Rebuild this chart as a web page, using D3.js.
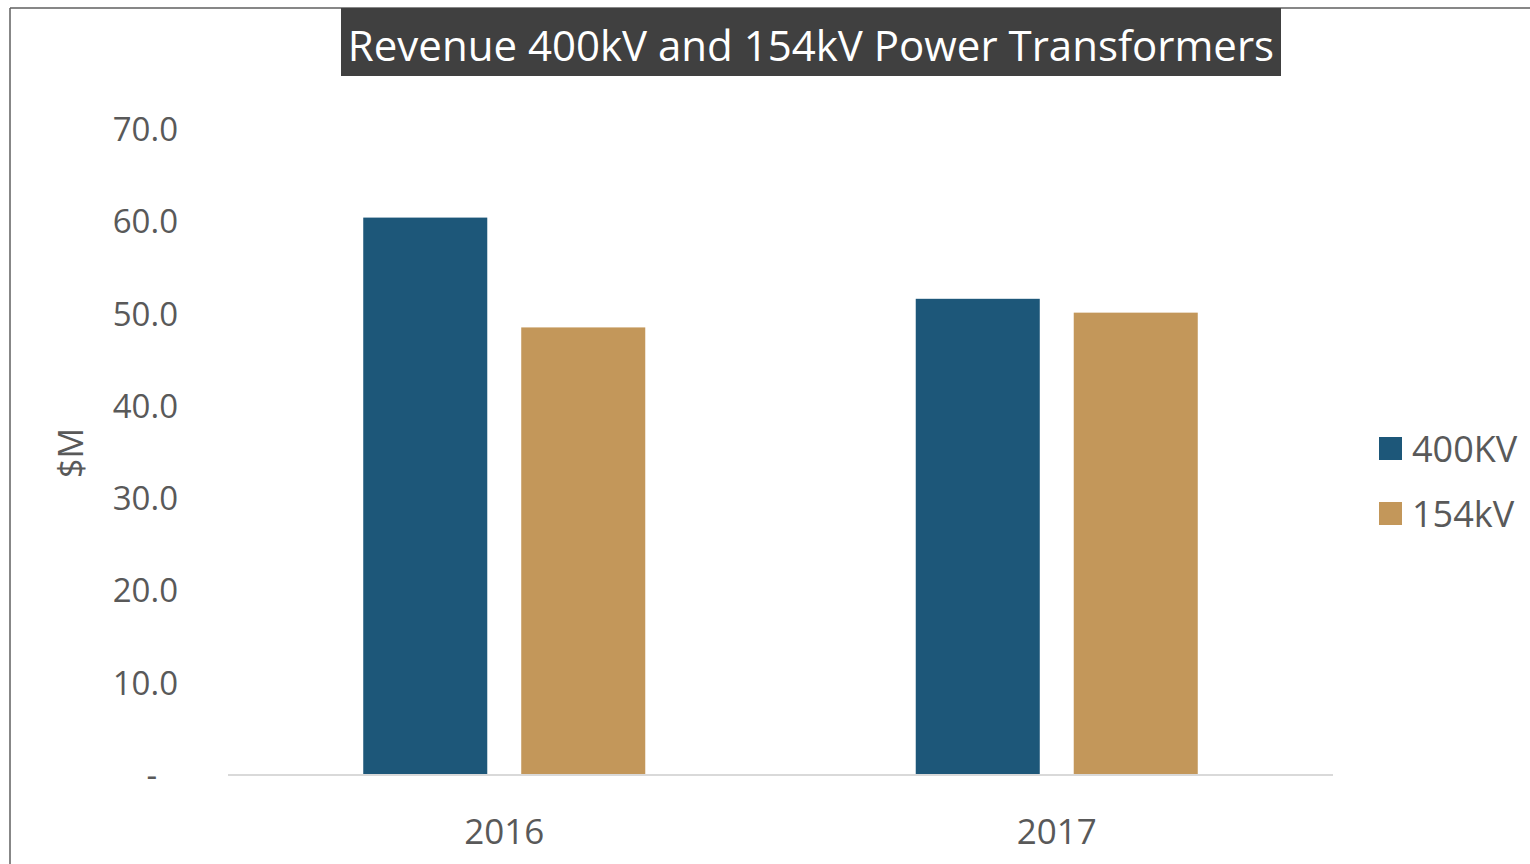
<!DOCTYPE html>
<html>
<head>
<meta charset="utf-8">
<script src="https://cdn.jsdelivr.net/npm/d3@7"></script>
<style>
  html, body { margin: 0; padding: 0; background: #fff; }
  svg { display: block; font-family: "Open Sans", "Noto Sans", sans-serif; }
</style>
</head>
<body>
<svg id="chart" width="1530" height="864"></svg>
<script>
const categories = ["2016", "2017"];
const seriesNames = ["400KV", "154kV"];
const series400 = [60.4, 51.6];
const series154 = [48.5, 50.1];
const seriesColors = ["#1d5779", "#c3975a"];
const yTicks = [0, 10, 20, 30, 40, 50, 60, 70];
const titleText = "Revenue 400kV and 154kV Power Transformers";
const yAxisTitle = "$M";

const seriesValues = [series400, series154];
const data = categories.map((c, i) => ({
  cat: c,
  vals: seriesNames.map((s, j) => ({ key: s, value: seriesValues[j][i], color: seriesColors[j] }))
}));

const svg = d3.select("#chart");
const textColor = "#595959";

// frame lines
svg.append("line").attr("x1", 10).attr("y1", 8).attr("x2", 1530).attr("y2", 8)
  .attr("stroke", "#5f5f5f").attr("stroke-width", 1.5);
svg.append("line").attr("x1", 10).attr("y1", 8).attr("x2", 10).attr("y2", 864)
  .attr("stroke", "#5f5f5f").attr("stroke-width", 1.5);

const y = d3.scaleLinear().domain([0, 70]).range([775, 129]);
const x0 = d3.scaleBand().domain(categories).range([228, 1333]).paddingInner(0).paddingOuter(0);
const x1 = d3.scaleBand().domain(seriesNames).range([0, x0.bandwidth()])
  .paddingInner(0.215).paddingOuter(0.856);

// bars
const groups = svg.append("g").selectAll("g").data(data).join("g")
  .attr("transform", d => `translate(${x0(d.cat)},0)`);
groups.selectAll("rect").data(d => d.vals).join("rect")
  .attr("x", d => x1(d.key))
  .attr("y", d => y(d.value))
  .attr("width", x1.bandwidth())
  .attr("height", d => y(0) - y(d.value))
  .attr("fill", d => d.color);

// x axis baseline
svg.append("line").attr("x1", 228).attr("x2", 1333)
  .attr("y1", y(0)).attr("y2", y(0))
  .attr("stroke", "#d9d9d9").attr("stroke-width", 2);

// y axis
const yAxis = d3.axisLeft(y).tickValues(yTicks).tickSize(0).tickPadding(0)
  .tickFormat(d => d === 0 ? "-" : d3.format(".1f")(d));
const gy = svg.append("g").attr("transform", "translate(178,0)").call(yAxis);
gy.select(".domain").remove();
gy.selectAll("text").attr("fill", textColor).style("font-size", "33px")
  .style("font-family", "'Open Sans', sans-serif").attr("dy", "0.35em");
gy.selectAll(".tick").filter(d => d === 0).select("text").attr("x", -21);

// x axis labels
const xAxis = d3.axisBottom(x0).tickSize(0).tickPadding(0);
const gx = svg.append("g").attr("transform", `translate(0,${y(0)})`).call(xAxis);
gx.select(".domain").remove();
gx.selectAll("text").attr("fill", textColor).style("font-size", "35px")
  .style("font-family", "'Open Sans', sans-serif").attr("y", 69).attr("dy", 0);

// y axis title
svg.append("text").attr("transform", "translate(83,453) rotate(-90)")
  .attr("text-anchor", "middle").attr("fill", textColor)
  .style("font-size", "34px").text(yAxisTitle);

// title
svg.append("rect").attr("x", 341).attr("y", 8).attr("width", 940).attr("height", 68).attr("fill", "#404040");
svg.append("text").attr("x", 811).attr("y", 61).attr("text-anchor", "middle")
  .attr("fill", "#ffffff").style("font-size", "42px").text(titleText);

// legend
const legend = svg.append("g").selectAll("g").data(seriesNames).join("g")
  .attr("transform", (d, i) => `translate(1379,${437 + i * 65})`);
legend.append("rect").attr("width", 23).attr("height", 23).attr("fill", (d, i) => seriesColors[i]);
legend.append("text").attr("x", 33).attr("y", 12).attr("dy", "0.35em")
  .attr("fill", textColor).style("font-size", "36px").text(d => d);
</script>
</body>
</html>
